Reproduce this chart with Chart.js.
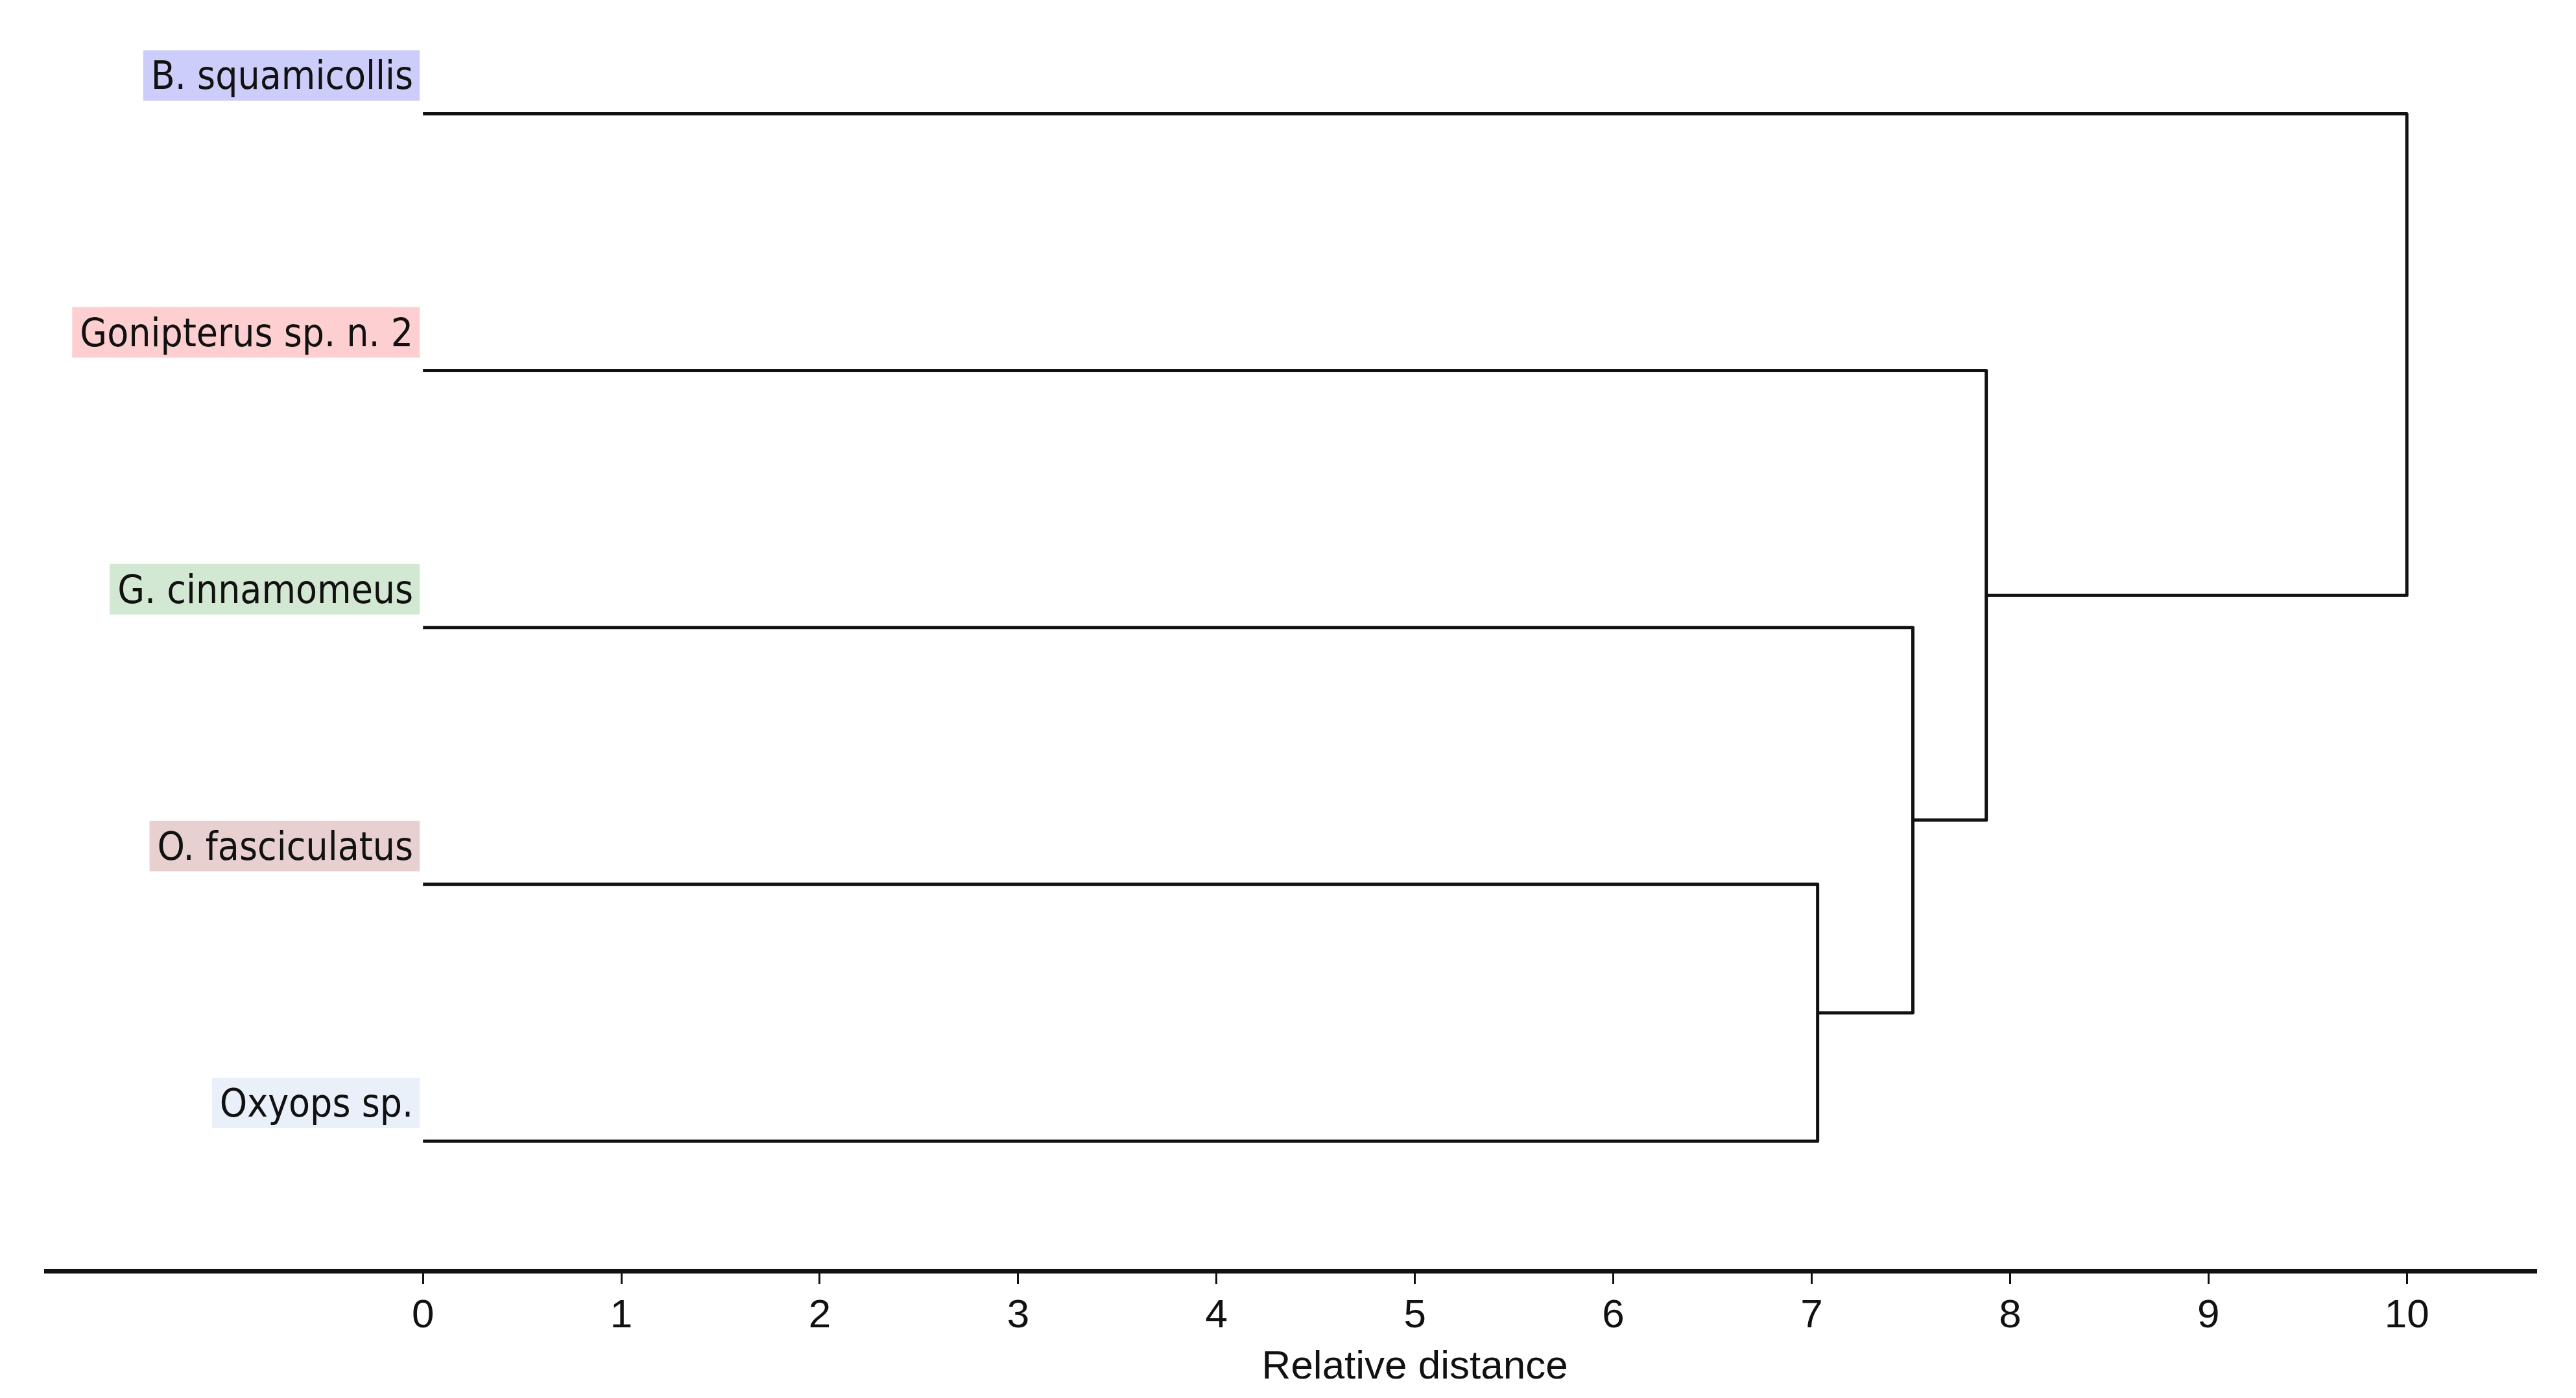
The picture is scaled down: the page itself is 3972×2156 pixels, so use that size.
<!DOCTYPE html>
<html>
<head>
<meta charset="utf-8">
<script src="https://cdn.jsdelivr.net/npm/chart.js@4.4.1/dist/chart.umd.min.js"></script>
<style>
  html, body { margin: 0; padding: 0; background: #fff; }
  #wrap { width: 3972px; height: 2156px; }
</style>
</head>
<body>
<div id="wrap"><canvas id="tree"></canvas></div>
<script>
// leaves, top to bottom
const taxa = ['B. squamicollis', 'Gonipterus sp. n. 2', 'G. cinnamomeus', 'O. fasciculatus', 'Oxyops sp.'];
const leafRows = [4, 3, 2, 1, 0];
const labelColors = ['#cdcdfb', '#fdcfd0', '#d3e8d3', '#e8d0d0', '#eaf0fa'];

// merges: node ids 0-4 are leaves, 5.. are the merges in order
const mergeLeft = [3, 2, 1, 0];
const mergeRight = [4, 5, 6, 7];
const mergeHeights = [7.03, 7.51, 7.88, 10.0];

// x axis
const tickValues = [0, 1, 2, 3, 4, 5, 6, 7, 8, 9, 10];
const tickLabels = ['0', '1', '2', '3', '4', '5', '6', '7', '8', '9', '10'];
const axisTitle = 'Relative distance';

// node positions (height, row)
const nodeX = leafRows.map(() => 0);
const nodeY = leafRows.slice();
const datasets = [];
mergeHeights.forEach((h, i) => {
  const a = mergeLeft[i], b = mergeRight[i];
  datasets.push({
    data: [
      { x: nodeX[a], y: nodeY[a] },
      { x: h, y: nodeY[a] },
      { x: h, y: nodeY[b] },
      { x: nodeX[b], y: nodeY[b] }
    ],
    showLine: true,
    borderColor: '#111',
    borderWidth: 5,
    borderJoinStyle: 'round',
    pointRadius: 0,
    tension: 0,
    fill: false
  });
  nodeX.push(h);
  nodeY.push((nodeY[a] + nodeY[b]) / 2);
});

// coloured leaf names sitting above each leaf line
const leafLabels = {
  id: 'leafLabels',
  afterDatasetsDraw(chart) {
    const { ctx, scales: { x, y } } = chart;
    ctx.save();
    ctx.font = '60px "DejaVu Sans Condensed", "DejaVu Sans"';
    ctx.textAlign = 'right';
    ctx.textBaseline = 'alphabetic';
    taxa.forEach((name, i) => {
      const right = x.getPixelForValue(0) - 5;
      const mid = y.getPixelForValue(leafRows[i]) - 59;
      const w = ctx.measureText(name).width;
      ctx.fillStyle = labelColors[i];
      ctx.fillRect(right - w - 22, mid - 39, w + 22, 78);
      ctx.fillStyle = '#111';
      ctx.fillText(name, right - 10, mid + 21);
    });
    ctx.restore();
  }
};

// axis title centred under the 0-10 range
const xTitle = {
  id: 'xTitle',
  afterDraw(chart) {
    const { ctx, scales: { x } } = chart;
    ctx.save();
    ctx.font = '62px "Liberation Sans", Arial, sans-serif';
    ctx.fillStyle = '#111';
    ctx.textAlign = 'center';
    ctx.textBaseline = 'alphabetic';
    ctx.fillText(axisTitle, x.getPixelForValue(5), x.top + 166);
    ctx.restore();
  }
};

new Chart(document.getElementById('tree'), {
  type: 'scatter',
  data: { datasets: datasets },
  options: {
    responsive: true,
    maintainAspectRatio: false,
    animation: false,
    layout: { padding: { top: 17, left: 71, right: 62, bottom: 0 } },
    plugins: {
      legend: { display: false },
      tooltip: { enabled: false }
    },
    scales: {
      x: {
        type: 'linear',
        position: 'bottom',
        min: -1.9,
        max: 10.65,
        afterBuildTicks: (scale) => {
          scale.ticks = tickValues.map(v => ({ value: v }));
        },
        afterFit: (scale) => { scale.height = 196; },
        ticks: {
          color: '#111',
          padding: 13,
          maxRotation: 0,
          font: { family: 'Liberation Sans', size: 62 },
          callback: (v) => tickLabels[tickValues.indexOf(v)]
        },
        grid: {
          drawOnChartArea: false,
          drawTicks: true,
          tickLength: 20,
          color: '#111',
          lineWidth: 3
        },
        border: { display: true, color: '#111', width: 7 }
      },
      y: {
        type: 'linear',
        display: false,
        min: -0.505,
        max: 4.4
      }
    }
  },
  plugins: [leafLabels, xTitle]
});
</script>
</body>
</html>
